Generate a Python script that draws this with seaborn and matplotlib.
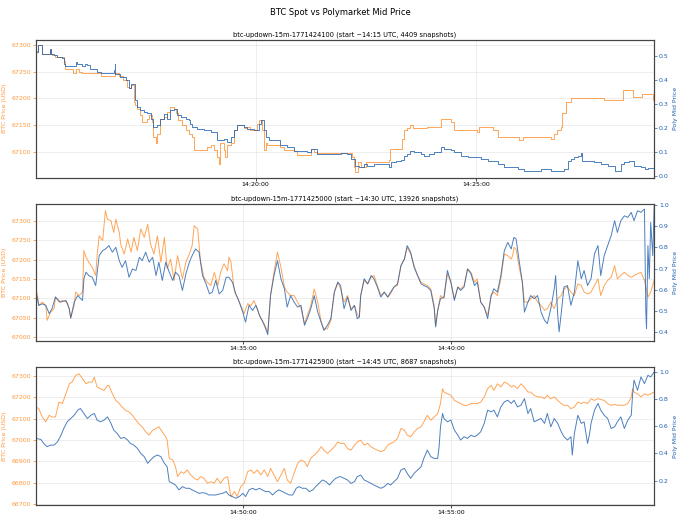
import numpy as np
import pandas as pd
import matplotlib
matplotlib.use("Agg")
import matplotlib.pyplot as plt
import matplotlib.dates as mdates
import seaborn as sns

# ---------------- data (seconds after window start, values) ----------------
titles = [
    "btc-updown-15m-1771424100 (start ~14:15 UTC, 4409 snapshots)",
    "btc-updown-15m-1771425000 (start ~14:30 UTC, 13926 snapshots)",
    "btc-updown-15m-1771425900 (start ~14:45 UTC, 8687 snapshots)",
]
starts = ["2026-02-18 14:15:00", "2026-02-18 14:30:00", "2026-02-18 14:45:00"]

p1_btc_t = [1, 3, 8, 9, 20, 21, 23, 27, 39, 41, 52, 55, 59, 64, 89, 109, 114, 120, 125, 127, 130,
            134, 136, 139, 143, 145, 152, 155, 159, 161, 164, 166, 170, 175, 180, 184, 189, 191,
            195, 200, 205, 209, 214, 216, 234, 239, 243, 248, 250, 252, 257, 259, 261, 266, 270,
            275, 284, 289, 293, 302, 305, 309, 311, 314, 316, 334, 339, 352, 357, 375, 380, 384,
            432, 434, 436, 439, 443, 450, 482, 483, 500, 502, 507, 511, 514, 534, 552, 566, 570,
            602, 605, 623, 630, 659, 664, 702, 707, 711, 716, 718, 723, 730, 775, 800, 814, 827,
            841, 843]
p1_btc_v = [67288, 67300, 67300, 67283, 67291, 67283, 67281, 67278, 67269, 67254, 67247, 67254,
            67250, 67248, 67241, 67247, 67241, 67234, 67222, 67219, 67225, 67194, 67188, 67181,
            67169, 67156, 67162, 67169, 67156, 67128, 67116, 67134, 67162, 67166, 67175, 67183,
            67181, 67172, 67159, 67150, 67141, 67134, 67128, 67103, 67109, 67112, 67103, 67091,
            67078, 67116, 67103, 67091, 67112, 67116, 67141, 67150, 67144, 67147, 67141, 67153,
            67159, 67141, 67103, 67116, 67112, 67109, 67103, 67102, 67094, 67106, 67100, 67098,
            67091, 67072, 67062, 67081, 67072, 67081, 67084, 67106, 67125, 67141, 67144, 67150,
            67144, 67147, 67161, 67156, 67141, 67138, 67147, 67141, 67128, 67122, 67128, 67125,
            67134, 67141, 67147, 67172, 67194, 67200, 67197, 67216, 67203, 67209, 67197, 67197]

p1_poly_t = [1, 3, 9, 20, 21, 25, 30, 36, 39, 41, 55, 57, 64, 68, 70, 75, 84, 89, 107, 108, 109,
             116, 123, 127, 130, 136, 139, 143, 148, 152, 157, 161, 166, 170, 175, 180, 184, 189,
             193, 198, 205, 209, 211, 214, 220, 230, 239, 248, 257, 261, 266, 270, 275, 284, 289,
             298, 305, 307, 311, 314, 318, 334, 343, 352, 370, 375, 384, 416, 425, 430, 436, 441,
             448, 452, 461, 482, 484, 491, 498, 502, 507, 511, 516, 525, 530, 536, 543, 552, 557,
             566, 570, 580, 589, 607, 616, 630, 639, 648, 657, 666, 689, 702, 720, 725, 730, 734,
             739, 743, 745, 761, 770, 780, 789, 798, 802, 809, 816, 825, 830, 834, 843]
p1_poly_v = [0.518, 0.546, 0.508, 0.528, 0.508, 0.504, 0.497, 0.490, 0.469, 0.458, 0.476, 0.469,
             0.458, 0.469, 0.462, 0.448, 0.434, 0.430, 0.441, 0.465, 0.427, 0.413, 0.399, 0.365,
             0.385, 0.316, 0.288, 0.274, 0.267, 0.263, 0.239, 0.204, 0.211, 0.239, 0.260, 0.239,
             0.274, 0.281, 0.253, 0.246, 0.239, 0.232, 0.218, 0.204, 0.197, 0.190, 0.183, 0.148,
             0.155, 0.141, 0.162, 0.190, 0.211, 0.204, 0.197, 0.190, 0.218, 0.232, 0.190, 0.162,
             0.148, 0.127, 0.120, 0.106, 0.099, 0.113, 0.092, 0.095, 0.092, 0.071, 0.043, 0.036,
             0.050, 0.043, 0.050, 0.036, 0.057, 0.064, 0.067, 0.085, 0.092, 0.106, 0.099, 0.092,
             0.085, 0.092, 0.099, 0.120, 0.113, 0.109, 0.099, 0.085, 0.078, 0.071, 0.064, 0.050,
             0.036, 0.039, 0.029, 0.022, 0.029, 0.022, 0.029, 0.064, 0.071, 0.078, 0.081, 0.095,
             0.064, 0.057, 0.050, 0.043, 0.022, 0.050, 0.057, 0.064, 0.043, 0.036, 0.029, 0.034,
             0.015]

p2_btc_t = [2, 4, 6, 11, 16, 18, 23, 28, 30, 35, 40, 47, 50, 52, 57, 59, 64, 69, 71, 74, 78, 83,
            88, 90, 93, 98, 102, 105, 110, 114, 117, 122, 124, 129, 134, 139, 143, 148, 153, 158,
            163, 167, 172, 177, 182, 187, 191, 196, 201, 206, 213, 218, 223, 227, 230, 235, 239,
            244, 249, 254, 259, 264, 268, 273, 278, 280, 283, 288, 292, 297, 302, 307, 312, 316,
            321, 326, 331, 336, 340, 345, 350, 355, 360, 364, 369, 374, 379, 384, 389, 393, 398,
            403, 408, 413, 417, 422, 427, 432, 437, 441, 446, 451, 456, 461, 465, 468, 470, 475,
            480, 485, 489, 494, 499, 504, 509, 513, 518, 523, 528, 533, 537, 542, 547, 552, 557,
            561, 566, 571, 576, 578, 581, 585, 590, 595, 600, 605, 610, 614, 619, 624, 629, 634,
            638, 643, 648, 653, 658, 662, 667, 672, 677, 682, 687, 689, 691, 694, 698, 703, 706,
            711, 715, 720, 725, 730, 735, 739, 744, 749, 754, 759, 763, 768, 773, 778, 783, 788,
            792, 797, 802, 807, 812, 816, 821, 826, 831, 836, 840, 845, 850, 855, 860, 864, 869,
            874, 879, 884, 888, 893]
p2_btc_v = [67124, 67107, 67081, 67090, 67081, 67043, 67064, 67073, 67103, 67090, 67094, 67090,
            67069, 67049, 67081, 67116, 67107, 67116, 67223, 67206, 67193, 67180, 67159, 67210,
            67261, 67249, 67326, 67304, 67300, 67270, 67304, 67270, 67240, 67214, 67253, 67219,
            67257, 67223, 67279, 67257, 67291, 67240, 67214, 67261, 67193, 67257, 67176, 67201,
            67146, 67210, 67150, 67193, 67214, 67236, 67287, 67279, 67197, 67154, 67141, 67133,
            67167, 67133, 67167, 67189, 67171, 67206, 67193, 67116, 67103, 67081, 67060, 67086,
            67081, 67094, 67073, 67047, 67034, 67013, 67107, 67167, 67219, 67180, 67129, 67116,
            67107, 67107, 67090, 67073, 67034, 67056, 67081, 67124, 67090, 67039, 67021, 67021,
            67043, 67116, 67141, 67124, 67090, 67107, 67073, 67081, 67060, 67051, 67107, 67146,
            67137, 67154, 67159, 67133, 67107, 67116, 67103, 67111, 67129, 67133, 67184, 67201,
            67231, 67214, 67184, 67159, 67141, 67137, 67133, 67124, 67081, 67030, 67069, 67107,
            67099, 67163, 67141, 67099, 67129, 67124, 67133, 67176, 67167, 67141, 67150, 67090,
            67077, 67056, 67107, 67116, 67107, 67150, 67214, 67210, 67201, 67210, 67231, 67227,
            67184, 67141, 67090, 67090, 67099, 67107, 67090, 67081, 67069, 67073, 67090, 67073,
            67099, 67107, 67124, 67129, 67116, 67107, 67137, 67133, 67116, 67111, 67116, 67133,
            67150, 67107, 67133, 67146, 67154, 67184, 67150, 67159, 67167, 67159, 67154, 67159,
            67163, 67167, 67146, 67103, 67116, 67146]

p2_poly_t = [2, 6, 11, 16, 21, 25, 30, 37, 45, 50, 52, 57, 62, 69, 71, 74, 78, 83, 88, 93, 98,
             102, 107, 112, 117, 122, 126, 131, 136, 141, 146, 151, 155, 160, 165, 170, 175, 179,
             184, 189, 194, 199, 203, 208, 213, 218, 223, 227, 232, 237, 242, 247, 252, 256, 261,
             266, 271, 276, 280, 285, 290, 295, 300, 304, 309, 314, 319, 324, 328, 333, 336, 340,
             345, 350, 355, 360, 364, 369, 374, 379, 384, 389, 393, 398, 403, 408, 413, 417, 422,
             427, 432, 437, 441, 446, 451, 456, 461, 465, 468, 470, 475, 480, 485, 489, 494, 499,
             504, 509, 513, 518, 523, 528, 533, 537, 542, 547, 552, 557, 561, 566, 571, 576, 578,
             581, 585, 590, 595, 600, 605, 610, 614, 619, 624, 629, 634, 638, 643, 648, 653, 658,
             662, 667, 672, 677, 682, 687, 689, 691, 694, 698, 703, 706, 711, 715, 720, 725, 730,
             735, 739, 744, 749, 751, 754, 756, 759, 763, 768, 773, 778, 783, 788, 792, 797, 802,
             807, 812, 816, 821, 826, 831, 836, 840, 845, 850, 855, 860, 864, 869, 874, 876, 879,
             881, 882, 884, 886, 888, 891, 893]
p2_poly_v = [0.589, 0.527, 0.534, 0.527, 0.488, 0.511, 0.566, 0.542, 0.550, 0.511, 0.467, 0.542,
             0.573, 0.550, 0.652, 0.683, 0.667, 0.659, 0.620, 0.761, 0.784, 0.792, 0.808, 0.777,
             0.800, 0.737, 0.706, 0.737, 0.659, 0.698, 0.691, 0.753, 0.737, 0.777, 0.730, 0.753,
             0.667, 0.730, 0.644, 0.730, 0.683, 0.644, 0.683, 0.667, 0.597, 0.675, 0.730, 0.761,
             0.792, 0.777, 0.667, 0.628, 0.581, 0.589, 0.644, 0.581, 0.597, 0.659, 0.659, 0.636,
             0.581, 0.542, 0.495, 0.448, 0.527, 0.503, 0.527, 0.480, 0.456, 0.417, 0.389, 0.573,
             0.667, 0.737, 0.652, 0.605, 0.519, 0.573, 0.542, 0.519, 0.527, 0.433, 0.464, 0.511,
             0.573, 0.495, 0.448, 0.409, 0.433, 0.464, 0.589, 0.636, 0.620, 0.511, 0.566, 0.503,
             0.527, 0.464, 0.472, 0.573, 0.652, 0.628, 0.667, 0.652, 0.613, 0.566, 0.589, 0.566,
             0.589, 0.613, 0.628, 0.714, 0.745, 0.808, 0.777, 0.706, 0.667, 0.628, 0.620, 0.613,
             0.597, 0.511, 0.425, 0.503, 0.558, 0.566, 0.691, 0.636, 0.550, 0.613, 0.597, 0.613,
             0.698, 0.675, 0.620, 0.636, 0.542, 0.519, 0.464, 0.573, 0.605, 0.589, 0.667, 0.784,
             0.823, 0.792, 0.823, 0.847, 0.839, 0.745, 0.636, 0.495, 0.542, 0.573, 0.558, 0.573,
             0.495, 0.456, 0.441, 0.511, 0.605, 0.667, 0.480, 0.402, 0.488, 0.613, 0.620, 0.527,
             0.589, 0.737, 0.652, 0.691, 0.620, 0.652, 0.769, 0.808, 0.667, 0.761, 0.808, 0.855,
             0.925, 0.870, 0.925, 0.948, 0.941, 0.964, 0.925, 0.972, 0.964, 0.972, 0.980, 0.495,
             0.417, 0.808, 0.652, 0.917, 0.761, 0.995]

p3_btc_t = [2, 6, 11, 16, 21, 25, 30, 35, 40, 45, 50, 54, 59, 64, 69, 74, 78, 83, 86, 90, 95,
            100, 105, 107, 112, 117, 122, 126, 131, 136, 141, 146, 150, 155, 160, 165, 170, 175,
            179, 184, 189, 191, 194, 199, 203, 206, 211, 215, 220, 225, 230, 235, 239, 244, 249,
            254, 259, 263, 268, 273, 278, 283, 288, 292, 297, 302, 307, 312, 316, 321, 326, 331,
            336, 340, 345, 350, 355, 360, 364, 369, 374, 379, 384, 389, 393, 398, 403, 408, 413,
            417, 422, 427, 432, 437, 441, 446, 451, 456, 461, 465, 470, 475, 480, 485, 489, 494,
            499, 504, 509, 513, 518, 523, 528, 533, 537, 542, 547, 552, 557, 561, 566, 571, 576,
            581, 585, 588, 590, 595, 600, 605, 610, 614, 619, 624, 629, 634, 638, 643, 648, 653,
            658, 662, 667, 672, 677, 682, 687, 691, 696, 701, 706, 711, 715, 720, 725, 730, 735,
            739, 744, 749, 754, 759, 763, 768, 773, 778, 783, 788, 792, 797, 802, 807, 812, 816,
            821, 826, 831, 836, 840, 845, 850, 855, 860, 862, 864, 869, 874, 879, 884, 888, 893]
p3_btc_v = [67155, 67147, 67108, 67085, 67116, 67108, 67108, 67178, 67171, 67217, 67264, 67272,
            67303, 67311, 67288, 67264, 67272, 67272, 67295, 67249, 67241, 67233, 67256, 67256,
            67217, 67186, 67171, 67155, 67139, 67132, 67116, 67093, 67077, 67062, 67038, 67023,
            67046, 67054, 67062, 67038, 67015, 66999, 66914, 66906, 66875, 66828, 66851, 66843,
            66859, 66836, 66820, 66812, 66828, 66820, 66797, 66804, 66797, 66820, 66797, 66820,
            66828, 66734, 66758, 66734, 66781, 66797, 66851, 66859, 66843, 66859, 66836, 66859,
            66828, 66867, 66836, 66804, 66836, 66867, 66812, 66797, 66843, 66890, 66906, 66898,
            66875, 66914, 66929, 66945, 66968, 66952, 66937, 66952, 66968, 66991, 66984, 66984,
            66960, 66952, 66976, 66991, 66999, 66976, 66984, 66968, 66960, 66952, 66945, 66952,
            66976, 66984, 66991, 67007, 67054, 67046, 67023, 67015, 67038, 67054, 67062, 67085,
            67116, 67093, 67108, 67124, 67171, 67241, 67225, 67217, 67210, 67186, 67178, 67171,
            67163, 67163, 67171, 67171, 67171, 67178, 67202, 67241, 67256, 67233, 67264, 67249,
            67272, 67264, 67249, 67256, 67241, 67264, 67249, 67225, 67225, 67210, 67202, 67202,
            67194, 67210, 67194, 67202, 67186, 67171, 67163, 67163, 67147, 67155, 67178, 67171,
            67178, 67171, 67194, 67186, 67194, 67190, 67186, 67171, 67163, 67167, 67163, 67163,
            67163, 67171, 67202, 67241, 67225, 67217, 67202, 67217, 67210, 67217, 67225]

p3_poly_t = [2, 9, 13, 18, 23, 28, 33, 38, 42, 47, 52, 57, 62, 66, 71, 76, 81, 86, 90, 95, 100,
             105, 110, 114, 119, 124, 129, 134, 138, 143, 148, 153, 158, 163, 167, 172, 177, 182,
             187, 191, 194, 199, 203, 208, 213, 218, 223, 227, 232, 237, 242, 247, 251, 256, 261,
             266, 271, 276, 280, 285, 290, 295, 300, 304, 309, 314, 319, 324, 328, 333, 338, 343,
             348, 352, 357, 362, 367, 372, 377, 381, 386, 391, 396, 401, 405, 410, 415, 420, 425,
             429, 434, 439, 441, 446, 451, 456, 461, 465, 470, 475, 480, 485, 489, 494, 499, 504,
             509, 513, 518, 523, 528, 533, 537, 542, 547, 552, 557, 561, 566, 571, 576, 581, 583,
             585, 588, 590, 595, 600, 605, 610, 614, 619, 624, 629, 634, 638, 643, 648, 653, 658,
             662, 667, 672, 677, 682, 687, 691, 696, 701, 706, 711, 715, 720, 725, 730, 735, 739,
             744, 749, 754, 759, 763, 768, 773, 775, 778, 783, 788, 792, 797, 800, 802, 807, 812,
             816, 821, 826, 831, 836, 840, 845, 850, 855, 860, 862, 864, 869, 874, 879, 884, 888,
             893]
p3_poly_v = [0.510, 0.502, 0.473, 0.449, 0.461, 0.461, 0.485, 0.534, 0.583, 0.632, 0.656, 0.680,
             0.717, 0.729, 0.693, 0.656, 0.680, 0.693, 0.644, 0.632, 0.644, 0.668, 0.620, 0.571,
             0.546, 0.510, 0.517, 0.498, 0.473, 0.461, 0.437, 0.400, 0.376, 0.327, 0.351, 0.376,
             0.388, 0.376, 0.327, 0.302, 0.193, 0.180, 0.168, 0.132, 0.156, 0.144, 0.144, 0.132,
             0.120, 0.107, 0.112, 0.107, 0.095, 0.095, 0.095, 0.102, 0.107, 0.120, 0.095, 0.083,
             0.071, 0.083, 0.107, 0.083, 0.132, 0.144, 0.132, 0.144, 0.132, 0.120, 0.120, 0.095,
             0.120, 0.132, 0.120, 0.107, 0.095, 0.095, 0.144, 0.156, 0.144, 0.144, 0.120, 0.132,
             0.156, 0.180, 0.205, 0.193, 0.168, 0.193, 0.217, 0.229, 0.229, 0.217, 0.205, 0.180,
             0.193, 0.229, 0.241, 0.205, 0.193, 0.180, 0.168, 0.156, 0.144, 0.156, 0.180, 0.168,
             0.193, 0.217, 0.278, 0.290, 0.254, 0.217, 0.254, 0.278, 0.302, 0.363, 0.424, 0.376,
             0.363, 0.363, 0.449, 0.595, 0.693, 0.656, 0.632, 0.644, 0.571, 0.534, 0.498, 0.522,
             0.510, 0.534, 0.522, 0.534, 0.559, 0.620, 0.717, 0.705, 0.717, 0.668, 0.741, 0.778,
             0.790, 0.766, 0.790, 0.741, 0.754, 0.802, 0.693, 0.729, 0.632, 0.644, 0.656, 0.620,
             0.693, 0.595, 0.656, 0.620, 0.559, 0.522, 0.498, 0.522, 0.388, 0.546, 0.680, 0.620,
             0.632, 0.473, 0.546, 0.620, 0.717, 0.766, 0.717, 0.680, 0.656, 0.583, 0.595, 0.632,
             0.668, 0.583, 0.644, 0.680, 0.839, 0.937, 0.863, 0.961, 0.912, 0.973, 0.961, 0.998]

btc_t = [p1_btc_t, p2_btc_t, p3_btc_t]
btc_v = [p1_btc_v, p2_btc_v, p3_btc_v]
poly_t = [p1_poly_t, p2_poly_t, p3_poly_t]
poly_v = [p1_poly_v, p2_poly_v, p3_poly_v]
btc_ylim = [(67052, 67309), (66989, 67344), (66695, 67341)]
poly_ylim = [(-0.007, 0.567), (0.358, 1.005), (0.022, 1.031)]
btc_ticks = [[67100, 67150, 67200, 67250, 67300],
             [67000, 67050, 67100, 67150, 67200, 67250, 67300],
             [66700, 66800, 66900, 67000, 67100, 67200, 67300]]
poly_ticks = [[0.0, 0.1, 0.2, 0.3, 0.4, 0.5],
              [0.4, 0.5, 0.6, 0.7, 0.8, 0.9, 1.0],
              [0.2, 0.4, 0.6, 0.8, 1.0]]
steps = ["steps-post", None, None]

ORANGE = "#ff7f0e"
BLUE = "#1f5fae"
FS = 4.5

fig, axes = plt.subplots(3, 1, figsize=(6.8, 5.2), dpi=100)
fig.subplots_adjust(left=0.053, right=0.962, top=0.923, bottom=0.029, hspace=0.19)
fig.suptitle("BTC Spot vs Polymarket Mid Price", fontsize=6, y=0.985)

for i, ax in enumerate(axes):
    t0 = pd.Timestamp(starts[i])
    df_b = pd.DataFrame({"time": t0 + pd.to_timedelta(btc_t[i], unit="s"), "btc": btc_v[i]})
    df_p = pd.DataFrame({"time": t0 + pd.to_timedelta(poly_t[i], unit="s"), "poly": poly_v[i]})
    kw = {}
    if steps[i]:
        kw["drawstyle"] = steps[i]
    sns.lineplot(data=df_b, x="time", y="btc", ax=ax, color=ORANGE, alpha=0.7,
                 linewidth=0.7, estimator=None, sort=False, **kw)
    ax2 = ax.twinx()
    sns.lineplot(data=df_p, x="time", y="poly", ax=ax2, color=BLUE, alpha=0.8,
                 linewidth=0.7, estimator=None, sort=False, **kw)

    xmin = min(df_b["time"].min(), df_p["time"].min())
    xmax = max(df_b["time"].max(), df_p["time"].max())
    ax.set_xlim(xmin, xmax)
    ax.set_ylim(*btc_ylim[i])
    ax2.set_ylim(*poly_ylim[i])
    ax.set_yticks(btc_ticks[i])
    ax2.set_yticks(poly_ticks[i])
    ax.yaxis.set_major_formatter(matplotlib.ticker.FormatStrFormatter("%d"))
    ax2.yaxis.set_major_formatter(matplotlib.ticker.FormatStrFormatter("%.1f"))

    ax.xaxis.set_major_locator(mdates.MinuteLocator(byminute=range(0, 60, 5)))
    ax.xaxis.set_major_formatter(mdates.DateFormatter("%H:%M:%S"))

    ax.set_xlabel("")
    ax.set_ylabel("BTC Price (USD)", color=ORANGE, fontsize=FS, alpha=0.8, labelpad=3)
    ax2.set_ylabel("Poly Mid Price", color=BLUE, fontsize=FS, labelpad=3)
    ax.tick_params(axis="y", colors=ORANGE, labelsize=FS, length=2, width=0.5, pad=1.5)
    ax2.tick_params(axis="y", colors=BLUE, labelsize=FS, length=2, width=0.5, pad=1.5)
    ax.tick_params(axis="x", labelsize=FS, length=2, width=0.5, pad=1.5)
    for lab in ax.get_yticklabels():
        lab.set_alpha(0.8)
    ax.grid(True, alpha=0.3, linewidth=0.5)
    ax.set_title(titles[i], fontsize=4.8, pad=2.5)
    for a in (ax, ax2):
        for s in a.spines.values():
            s.set_linewidth(0.8)
            s.set_color("#444444")

fig.savefig("out.png", dpi=100)
